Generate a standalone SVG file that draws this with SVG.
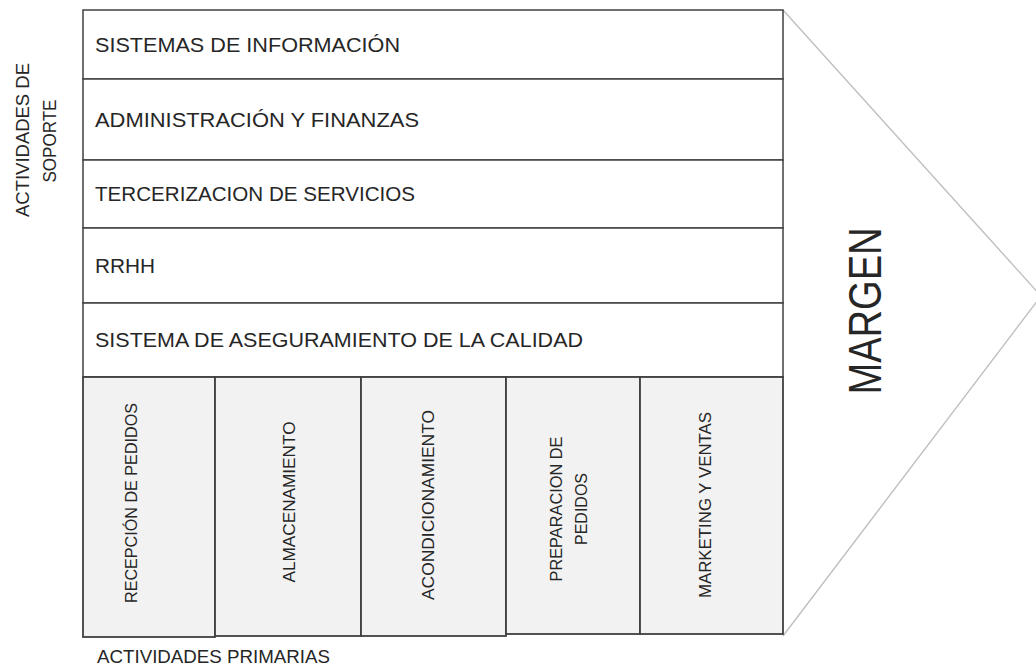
<svg xmlns="http://www.w3.org/2000/svg" width="1036" height="667" viewBox="0 0 1036 667">
<style>
text{font-family:"Liberation Sans",Arial,sans-serif;fill:#262626}
.row{fill:#ffffff;stroke:#404040;stroke-width:1.5}
.prim{fill:#f2f2f2;stroke:#404040;stroke-width:1.8}
.lbl{font-size:20.5px}
.plbl{font-size:17px;text-anchor:middle}
.side{font-size:18px}
.arrow{fill:none;stroke:#bfbfbf;stroke-width:1.4}
</style>
<rect width="1036" height="667" fill="#ffffff"/>
<g id="margen">
<polyline class="arrow" points="783,10 1041,296 783,636"/>
<text transform="translate(881,311) rotate(-90)" text-anchor="middle" style="font-size:46px" textLength="167" lengthAdjust="spacingAndGlyphs">MARGEN</text>
</g>
<g id="soporte">
<g id="sistemas-informacion"><rect class="row" x="83" y="10" width="700" height="69"/><text class="lbl" x="95" y="52" textLength="305" lengthAdjust="spacingAndGlyphs">SISTEMAS DE INFORMACIÓN</text></g>
<g id="administracion-finanzas"><rect class="row" x="83" y="79" width="700" height="81"/><text class="lbl" x="95" y="127" textLength="324" lengthAdjust="spacingAndGlyphs">ADMINISTRACIÓN Y FINANZAS</text></g>
<g id="tercerizacion"><rect class="row" x="83" y="160" width="700" height="68"/><text class="lbl" x="95" y="201" textLength="320" lengthAdjust="spacingAndGlyphs">TERCERIZACION DE SERVICIOS</text></g>
<g id="rrhh"><rect class="row" x="83" y="228" width="700" height="75"/><text class="lbl" x="95" y="273" textLength="60" lengthAdjust="spacingAndGlyphs">RRHH</text></g>
<g id="calidad"><rect class="row" x="83" y="303" width="700" height="74"/><text class="lbl" x="95" y="347" textLength="488" lengthAdjust="spacingAndGlyphs">SISTEMA DE ASEGURAMIENTO DE LA CALIDAD</text></g>
</g>
<g id="primarias">
<g id="recepcion"><rect class="prim" x="83" y="377" width="132" height="260"/><text class="plbl" transform="translate(137,503) rotate(-90)" textLength="200" lengthAdjust="spacingAndGlyphs">RECEPCIÓN DE PEDIDOS</text></g>
<g id="almacenamiento"><rect class="prim" x="215" y="377" width="146" height="259"/><text class="plbl" transform="translate(295,502) rotate(-90)" textLength="161" lengthAdjust="spacingAndGlyphs">ALMACENAMIENTO</text></g>
<g id="acondicionamiento"><rect class="prim" x="361" y="377" width="145" height="259"/><text class="plbl" transform="translate(434,505) rotate(-90)" textLength="190" lengthAdjust="spacingAndGlyphs">ACONDICIONAMIENTO</text></g>
<g id="preparacion"><rect class="prim" x="506" y="377" width="134" height="257"/><text class="plbl" transform="translate(562,509) rotate(-90)" textLength="145" lengthAdjust="spacingAndGlyphs">PREPARACION DE</text><text class="plbl" transform="translate(587,509) rotate(-90)" textLength="72" lengthAdjust="spacingAndGlyphs">PEDIDOS</text></g>
<g id="marketing"><rect class="prim" x="640" y="377" width="143" height="257"/><text class="plbl" transform="translate(711,505) rotate(-90)" textLength="186" lengthAdjust="spacingAndGlyphs">MARKETING Y VENTAS</text></g>
</g>
<g id="label-soporte">
<text class="side" transform="translate(29,140) rotate(-90)" text-anchor="middle" textLength="154" lengthAdjust="spacingAndGlyphs">ACTIVIDADES DE</text>
<text class="side" transform="translate(56,141) rotate(-90)" text-anchor="middle" textLength="83" lengthAdjust="spacingAndGlyphs">SOPORTE</text>
</g>
<g id="label-primarias">
<text class="side" x="97" y="663" textLength="233" lengthAdjust="spacingAndGlyphs">ACTIVIDADES PRIMARIAS</text>
</g>
</svg>
